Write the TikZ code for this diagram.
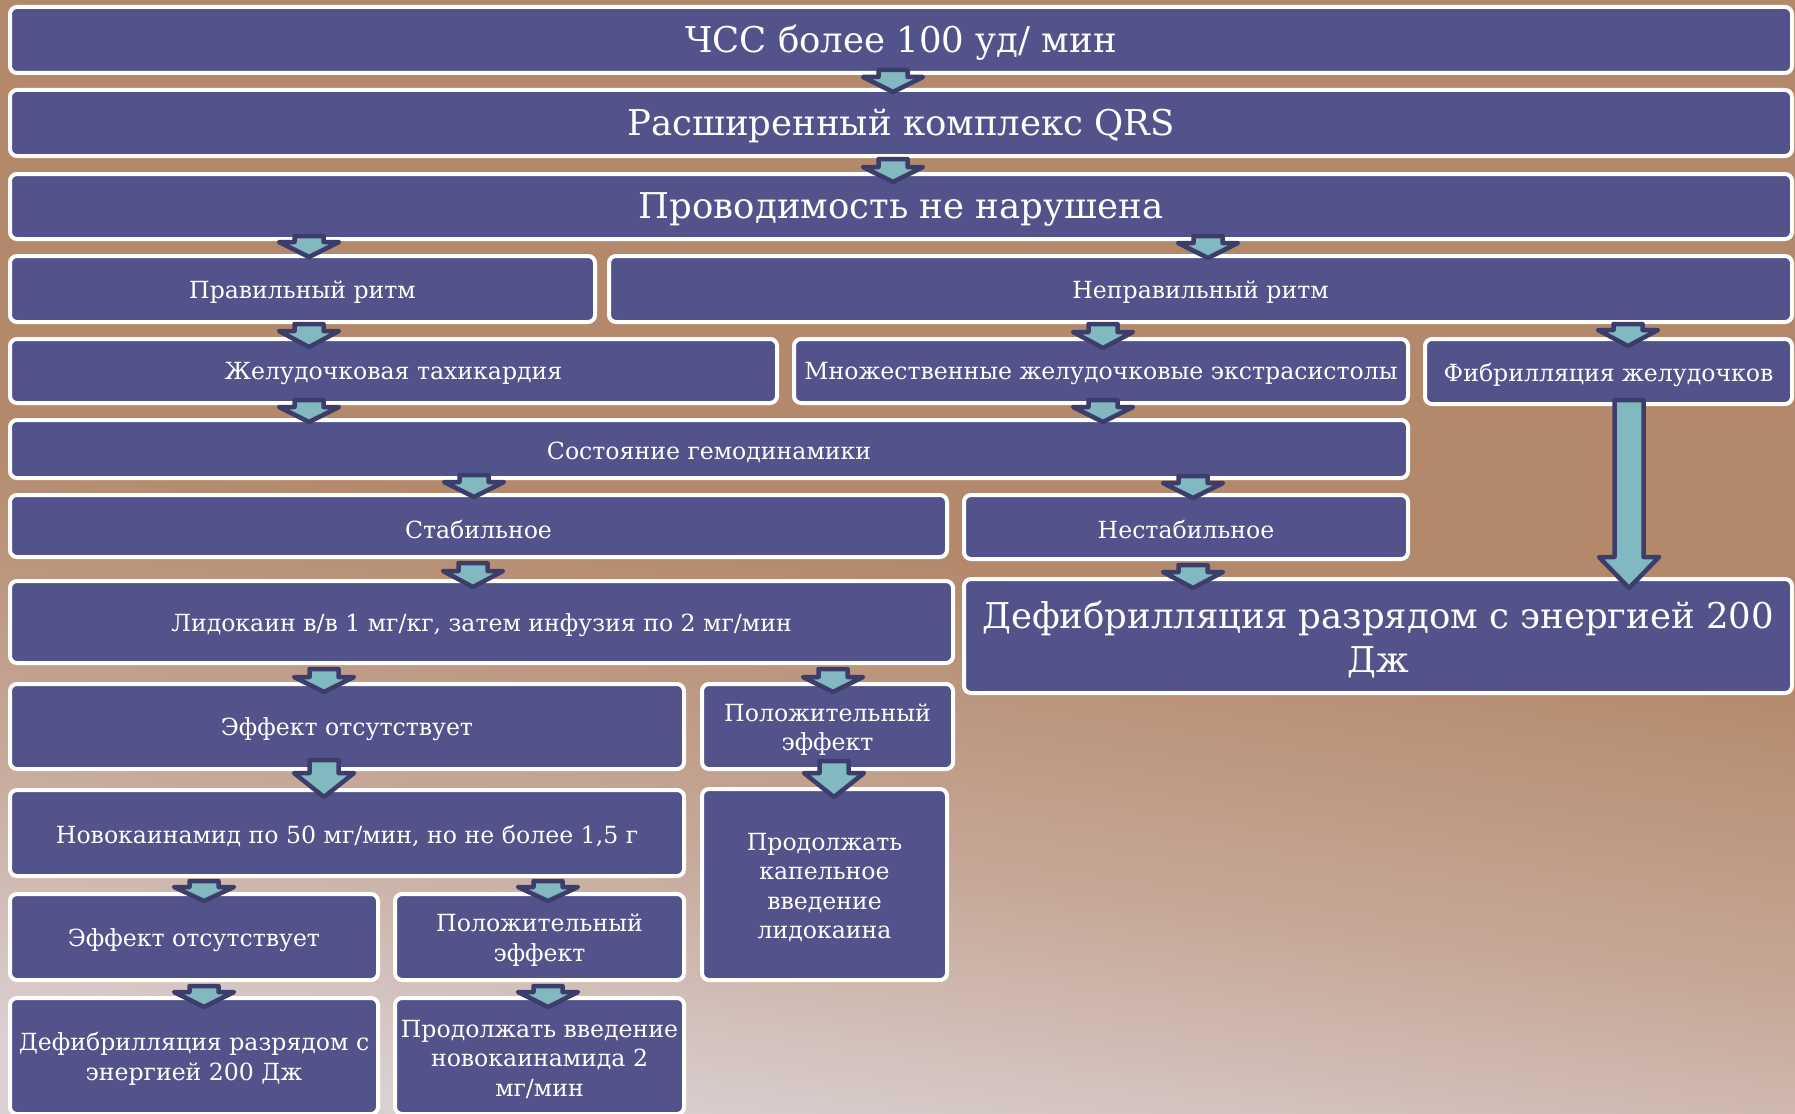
\documentclass[tikz,border=0pt]{standalone}
\usepackage{fontspec}
\setmainfont{DejaVu Serif}
\usetikzlibrary{calc}
\definecolor{boxfill}{HTML}{52538A}
\definecolor{arrfill}{HTML}{82B8C0}
\definecolor{arrline}{HTML}{3C3D6A}
\definecolor{bgtop}{HTML}{B4896B}
\definecolor{bgmid}{HTML}{C6A898}
\definecolor{bgbot}{HTML}{DAD0D1}
\pgfdeclareverticalshading{bgshade}{100bp}{color(0bp)=(bgbot); color(25bp)=(bgbot); color(37bp)=(bgmid); color(50bp)=(bgtop); color(100bp)=(bgtop)}
\tikzset{
  box/.style={draw=white, line width=4pt, fill=boxfill, rounded corners=7pt, inner sep=0pt},
  txt/.style={text=white, inner sep=0pt, align=center},
  sm/.style={font=\fontsize{23.6}{29.5}\selectfont},
  lg/.style={font=\fontsize{35.5}{44}\selectfont},
  barrow/.style={draw=arrline, fill=arrfill, line width=4.5pt, line join=round}
}
\newcommand\bx[7]{%
  \node[box,minimum width={#4-#2-4},minimum height={#5-#3-4}] (#1) at ({(#2+#4)/2},{(#3+#5)/2}) {};
  \node[txt,#6] (#1t) at ([yshift=-3pt]#1.center) {#7};}
% from, to, x, dtop, head, dtip
\newcommand\barr[6]{%
  \path (#3,0 |- #1.south) ++(0,-#4) coordinate (at);
  \path (#3,0 |- #2.north) ++(0,#6) coordinate (ab);
  \draw[barrow] ($(at)+(-14.5,0)$) -- ($(at)+(14.5,0)$) -- ($(ab)+(14.5,-#5)$) -- ($(ab)+(30,-#5)$) -- (ab) -- ($(ab)+(-30,-#5)$) -- ($(ab)+(-14.5,-#5)$) -- cycle;
}
\begin{document}
\begin{tikzpicture}[x=1pt,y=-1pt]
\useasboundingbox (0,0) rectangle (1795,1113);
\clip (0,0) rectangle (1795,1113);
\shade[shading=bgshade, shading angle=-8] (0,0) rectangle (1795,1113);
\bx{b1}{8}{5}{1794}{75}{lg}{ЧСС более 100 уд/ мин}
\bx{b2}{8}{88}{1794}{158}{lg}{Расширенный комплекс QRS}
\bx{b3}{8}{172}{1794}{241}{lg}{Проводимость не нарушена}
\bx{b4a}{8}{254}{597}{324}{sm}{Правильный ритм}
\bx{b4b}{607}{254}{1794}{324}{sm}{Неправильный ритм}
\bx{b5a}{8}{337}{779}{405}{sm}{Желудочковая тахикардия}
\bx{b5b}{792}{337}{1410}{405}{sm}{Множественные желудочковые экстрасистолы}
\bx{b5c}{1423}{337}{1794}{406}{sm}{Фибрилляция желудочков}
\bx{b6}{8}{418}{1410}{480}{sm}{Состояние гемодинамики}
\bx{b7a}{8}{493}{949}{559}{sm}{Стабильное}
\bx{b7b}{962}{493}{1410}{561}{sm}{Нестабильное}
\bx{b8a}{8}{579}{955}{665}{sm}{Лидокаин в/в 1 мг/кг, затем инфузия по 2 мг/мин}
\bx{b8b}{962}{577}{1794}{695}{lg}{Дефибрилляция разрядом с энергией 200\\Дж}
\bx{b9a}{8}{682}{686}{771}{sm}{Эффект отсутствует}
\bx{b9b}{700}{682}{955}{771}{sm}{Положительный\\эффект}
\bx{b10a}{8}{788}{686}{878}{sm}{Новокаинамид по 50 мг/мин, но не более 1,5 г}
\bx{b10b}{700}{787}{949}{982}{sm}{Продолжать\\капельное\\введение\\лидокаина}
\bx{b11a}{8}{892}{380}{982}{sm}{Эффект отсутствует}
\bx{b11b}{393}{892}{686}{982}{sm}{Положительный\\эффект}
\bx{b12a}{8}{996}{380}{1116}{sm}{Дефибрилляция разрядом с\\энергией 200 Дж}
\bx{b12b}{393}{996}{686}{1116}{sm}{Продолжать введение\\новокаинамида 2\\мг/мин}
\barr{b1}{b2}{893}{5}{15}{4}
\barr{b2}{b3}{893}{-1}{15}{10}
\barr{b3}{b4a}{309}{5}{15}{3}
\barr{b3}{b4b}{1208}{5}{15}{4}
\barr{b4a}{b5a}{309}{0}{16}{10}
\barr{b4b}{b5b}{1103}{0}{16}{11}
\barr{b4b}{b5c}{1628}{0}{16}{9}
\barr{b5a}{b6}{309}{5}{15}{4}
\barr{b5b}{b6}{1103}{5}{15}{4}
\barr{b6}{b7a}{474}{5}{15}{4}
\barr{b6}{b7b}{1193}{4}{15}{5}
\barr{b7a}{b8a}{473}{-4}{16}{8}
\barr{b7b}{b8b}{1193}{-4}{16}{11}
\barr{b5c}{b8b}{1629}{6}{31}{11}
\barr{b8a}{b9a}{324}{-4}{15}{10}
\barr{b8a}{b9b}{833}{-4}{15}{10}
\barr{b9a}{b10a}{324}{11}{24}{9}
\barr{b9b}{b10b}{834}{10}{24}{10}
\barr{b10a}{b11a}{204}{-3}{14}{9}
\barr{b10a}{b11b}{548}{-3}{14}{9}
\barr{b11a}{b12a}{204}{-4}{15}{11}
\barr{b11b}{b12b}{548}{-4}{15}{11}
\end{tikzpicture}
\end{document}
